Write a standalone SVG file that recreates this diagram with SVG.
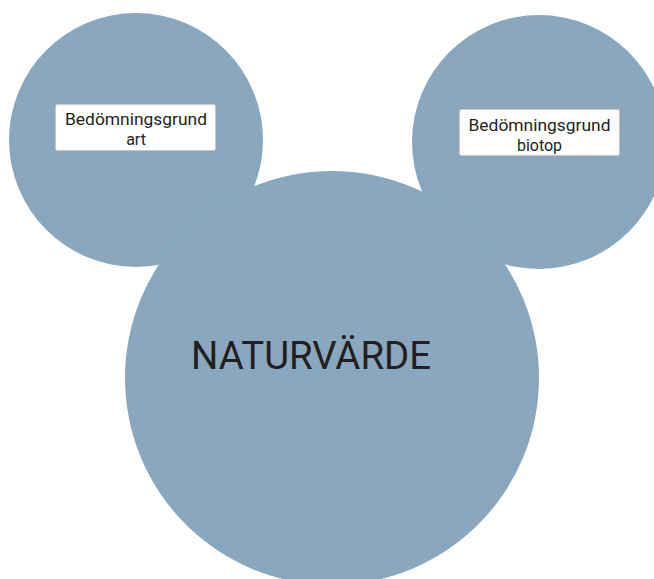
<svg xmlns="http://www.w3.org/2000/svg" width="654" height="579" viewBox="0 0 654 579">
<style>
.c{fill:#89a8bf}
.box{fill:#fff;stroke:#c8c8c8;stroke-width:1}
.t{font-family:Roboto,"Liberation Sans",sans-serif;font-size:16px;fill:#231f20;text-anchor:middle}
.big{font-family:Roboto,"Liberation Sans",sans-serif;font-size:39px;fill:#231f20}
</style>
<rect width="654" height="579" fill="#fff"/>
<g id="ear-left"><circle class="c" cx="136" cy="140" r="127"/></g>
<g id="ear-right"><circle class="c" cx="539" cy="142" r="127"/></g>
<g id="head"><circle class="c" cx="332" cy="378" r="207"/>
<text class="big" x="191" y="369" textLength="240" lengthAdjust="spacingAndGlyphs">NATURVÄRDE</text></g>
<g id="node-art"><rect class="box" x="55.5" y="104.5" width="160" height="46" rx="2"/>
<text class="t" x="136" y="124.5" textLength="142" lengthAdjust="spacingAndGlyphs">Bedömningsgrund</text>
<text class="t" x="136" y="144.5">art</text></g>
<g id="node-biotop"><rect class="box" x="459.5" y="109.5" width="160" height="46" rx="2"/>
<text class="t" x="539.5" y="130.5" textLength="142" lengthAdjust="spacingAndGlyphs">Bedömningsgrund</text>
<text class="t" x="539.5" y="150.5">biotop</text></g>
<g id="connectors"></g>
</svg>
